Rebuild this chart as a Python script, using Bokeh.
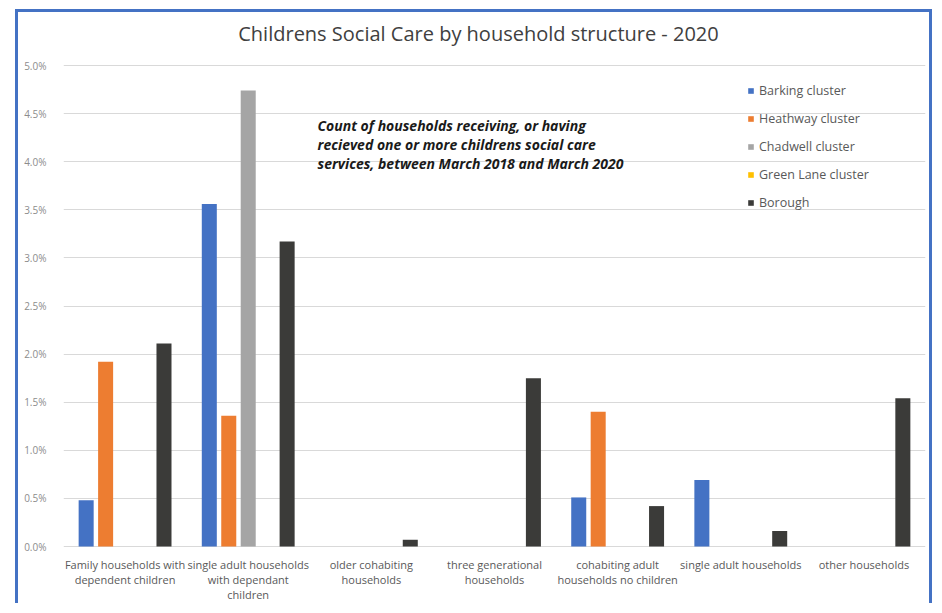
from bokeh.plotting import figure
from bokeh.models import (FactorRange, Range1d, Legend, LegendItem, Label,
                          PrintfTickFormatter, FixedTicker, ColumnDataSource)
from bokeh.transform import dodge
from bokeh.embed import file_html
from bokeh.resources import INLINE

categories = [
    "Family households with dependent children",
    "single adult households with dependant children",
    "older cohabiting households",
    "three generational households",
    "cohabiting adult households no children",
    "single adult households",
    "other households",
]
category_labels = [
    "Family households with\ndependent children",
    "single adult households\nwith dependant\nchildren",
    "older cohabiting\nhouseholds",
    "three generational\nhouseholds",
    "cohabiting adult\nhouseholds no children",
    "single adult households",
    "other households",
]
series_names = ["Barking cluster", "Heathway cluster", "Chadwell cluster",
                "Green Lane cluster", "Borough"]
barking = [0.48, 3.56, 0.0, 0.0, 0.51, 0.69, 0.0]
heathway = [1.92, 1.36, 0.0, 0.0, 1.40, 0.0, 0.0]
chadwell = [0.0, 4.74, 0.0, 0.0, 0.0, 0.0, 0.0]
green_lane = [0.0, 0.0, 0.0, 0.0, 0.0, 0.0, 0.0]
borough = [2.11, 3.17, 0.07, 1.75, 0.42, 0.16, 1.54]
y_ticks = [0.0, 0.5, 1.0, 1.5, 2.0, 2.5, 3.0, 3.5, 4.0, 4.5, 5.0]
title_text = "Childrens Social Care by household structure - 2020"
note_lines = ["Count of households receiving, or having",
              "recieved one or more childrens social care",
              "services, between March 2018 and March 2020"]
colors = ["#4472C4", "#ED7D31", "#A5A5A5", "#FFC000", "#3B3B39"]

source = ColumnDataSource(dict(cat=categories, barking=barking, heathway=heathway,
                               chadwell=chadwell, green_lane=green_lane, borough=borough))
keys = ["barking", "heathway", "chadwell", "green_lane", "borough"]

# layout (pixels): canvas spans 12..606 vertically; 5% line at 65, 0% at 546
W, H = 917, 594
CANVAS_TOP, CANVAS_BOTTOM = 12, 12 + H
Y5_PX, Y0_PX = 65, 546
ppu = (Y0_PX - Y5_PX) / 5.0
y_start = -(CANVAS_BOTTOM - Y0_PX) / ppu
y_end = 5.0 + (Y5_PX - CANVAS_TOP) / ppu

p = figure(width=W, height=H, x_range=FactorRange(*categories),
           y_range=Range1d(y_start, y_end),
           output_backend="svg", toolbar_location=None, x_axis_location=None,
           min_border_left=45, min_border_right=10, min_border_top=0, min_border_bottom=0)
p.outline_line_color = None
p.background_fill_color = "white"
p.border_fill_color = "white"
p.styles = {"margin-left": "15px", "margin-top": "9px",
            "border-left": "3px solid #4472C4", "border-top": "3px solid #4472C4",
            "border-right": "3px solid #4472C4"}

pitch = 0.158
offsets = [-2 * pitch, -pitch, 0.0, pitch, 2 * pitch]
renderers = []
for k, off, c in zip(keys, offsets, colors):
    r = p.vbar(x=dodge("cat", off, range=p.x_range), top=k, bottom=0, width=0.122,
               source=source, fill_color=c, line_color=None)
    renderers.append(r)

# y axis
p.yaxis.ticker = FixedTicker(ticks=y_ticks)
p.yaxis.formatter = PrintfTickFormatter(format="%.1f%%")
p.yaxis.axis_line_color = None
p.yaxis.major_tick_line_color = None
p.yaxis.minor_tick_line_color = None
p.yaxis.major_label_text_color = "#8c8c8c"
p.yaxis.major_label_text_font = "Open Sans"
p.yaxis.major_label_text_font_size = "10px"
p.yaxis.major_label_standoff = 11

p.xgrid.grid_line_color = None
p.ygrid.grid_line_color = "#d9d9d9"
p.ygrid.grid_line_width = 1

# category labels (multi-line), below the 0% line
for i, lab in enumerate(category_labels):
    p.add_layout(Label(x=i + 0.5, y=-10 / ppu, text=lab, text_align="center",
                       text_baseline="top", text_font="Open Sans",
                       text_font_size="11px", text_color="#595959",
                       text_line_height=1.0))

# title
p.add_layout(Label(x=3.5 - 16 / 123.14, y=5.0 + (Y5_PX - 33) / ppu, text=title_text,
                   text_align="center", text_baseline="middle", text_font="Open Sans",
                   text_font_size="20px", text_color="#404040"))

# legend
items = [LegendItem(label=n, renderers=[r]) for n, r in zip(series_names, renderers)]
legend = Legend(items=items, location=(684, 395), orientation="vertical")
legend.glyph_width = 7
legend.glyph_height = 7
legend.label_height = 16
legend.spacing = 11
legend.padding = 0
legend.margin = 0
legend.label_standoff = 5
legend.label_text_font = "Open Sans"
legend.label_text_font_size = "12.5px"
legend.label_text_color = "#595959"
legend.border_line_color = None
legend.background_fill_alpha = 0
p.add_layout(legend)

# annotation, one label per line (centres at 125, 144, 163 px)
for j, line in enumerate(note_lines):
    p.add_layout(Label(x=2.063, y=5.0 - (125 + 19 * j - Y5_PX) / ppu, text=line,
                       text_font="Open Sans", text_font_size="14px",
                       text_font_style="bold italic", text_color="#1a1a1a",
                       text_baseline="middle", text_align="left"))

open("out.html", "w").write(file_html(p, INLINE))
